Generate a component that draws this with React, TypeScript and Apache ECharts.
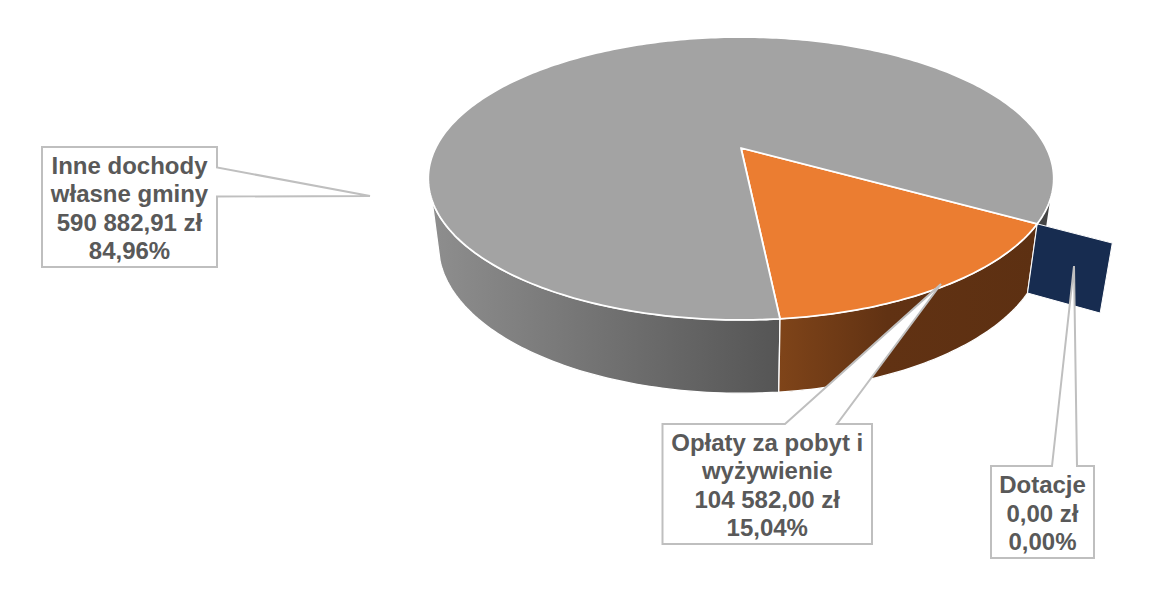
import React, { useEffect, useRef } from "react";
import * as echarts from "echarts";

const categories = ["Dotacje", "Opłaty za pobyt i wyżywienie", "Inne dochody własne gminy"];
const labelLines = [["Dotacje"], ["Opłaty za pobyt i", "wyżywienie"], ["Inne dochody", "własne gminy"]];
const values = [0, 104582.0, 590882.91];
const sliceColors = ["#172C50", "#EB7D31", "#A3A3A3"];

// layout of the drawing (not data)
const START_ANGLE = 120.1;
const EXPLODE = [1.22, 1, 1];
const TOP = { cx: 741, cy: 148, a: 305.4, b: 134.9, k: 0.2155 };
const BOTTOM = { cx: 741, cy: 214, a: 295.4, b: 140.6, k: 0.2155 };
const VISIBLE_WALL = { backRight: 110.9, frontLeftTop: 249, frontLeftBottom: 252 };
const CALLOUTS = [
  { box: [991, 466, 1094, 558], tip: [1074, 266], side: "top", base: [1052, 1077] },
  { box: [662.5, 424, 872, 544], tip: [941, 284], side: "top", base: [785, 837] },
  { box: [42, 147, 217, 267], tip: [370, 196], side: "right", base: [167.5, 196.5] },
];

type Plane = typeof TOP;
const project = (deg: number, e: number, p: Plane): number[] => {
  const t = (deg * Math.PI) / 180;
  const u = e * Math.sin(t);
  const v = -e * Math.cos(t);
  const d = 1 - p.k * v;
  return [p.cx + (p.a * u) / d, p.cy + (p.b * v) / d];
};
const arc = (from: number, to: number, p: Plane, e = 1): number[][] => {
  const n = Math.max(1, Math.ceil(Math.abs(to - from)));
  const pts: number[][] = [];
  for (let i = 0; i <= n; i++) pts.push(project(from + ((to - from) * i) / n, e, p));
  return pts;
};

const total = values.reduce((a, b) => a + b, 0);
const spans = (() => {
  let acc = START_ANGLE;
  return values.map((v) => {
    const s = acc;
    acc += (v / total) * 360;
    return [s, acc];
  });
})();

const group3 = (n: string) => n.replace(/\B(?=(\d{3})+(?!\d))/g, " ");
const money = (v: number) => {
  const [i, f] = v.toFixed(2).split(".");
  return `${group3(i)},${f} zł`;
};
const pct = (v: number) => `${((v / total) * 100).toFixed(2).replace(".", ",")}%`;

const poly = (points: number[][], fill: any, stroke = "#FFFFFF", lineWidth = 1.3) => ({
  type: "polygon",
  shape: { points },
  style: { fill, stroke, lineWidth, lineJoin: "round" },
});

const renderWall = (params: any) => {
  const i = params.dataIndex;
  const [s, e] = spans[i];
  const ex = EXPLODE[i];
  if (i === 0) {
    const pts = [
      project(s, 1, TOP),
      project(s, ex, TOP),
      project(s, ex, BOTTOM),
      project(s, 1, BOTTOM),
    ];
    return { type: "group", children: [poly(pts, sliceColors[0], "#FFFFFF", 1)] };
  }
  if (i === 1) {
    const pts = [...arc(s, e, TOP), ...arc(e, s, BOTTOM)];
    const fill = new echarts.graphic.LinearGradient(0, 0, 1, 0, [
      { offset: 0, color: "#7F4419" },
      { offset: 0.42, color: "#613213" },
      { offset: 1, color: "#5D3012" },
    ]);
    return { type: "group", children: [poly(pts, fill)] };
  }
  const front = [...arc(s, VISIBLE_WALL.frontLeftTop, TOP), ...arc(VISIBLE_WALL.frontLeftBottom, s, BOTTOM)];
  const fill = new echarts.graphic.LinearGradient(0, 0, 1, 0, [
    { offset: 0, color: "#8E8E8E" },
    { offset: 1, color: "#555555" },
  ]);
  const backRight = [...arc(VISIBLE_WALL.backRight, s, TOP), ...arc(s, VISIBLE_WALL.backRight, BOTTOM)];
  return {
    type: "group",
    children: [poly(backRight, "#454545", "#FFFFFF", 0), poly(front, fill)],
  };
};

const renderTop = (params: any) => {
  const i = params.dataIndex;
  const [s, e] = spans[i];
  if (e - s < 1e-6) return { type: "group", children: [] };
  const centre = [TOP.cx, TOP.cy];
  return poly([centre, ...arc(s, e, TOP)], sliceColors[i], "#FFFFFF", 1.8);
};

const calloutPoints = (c: (typeof CALLOUTS)[number]) => {
  const [x0, y0, x1, y1] = c.box;
  if (c.side === "top") {
    return [[x0, y0], [c.base[0], y0], c.tip, [c.base[1], y0], [x1, y0], [x1, y1], [x0, y1]];
  }
  return [[x0, y0], [x1, y0], [x1, c.base[0]], c.tip, [x1, c.base[1]], [x1, y1], [x0, y1]];
};

const renderCallout = (params: any) => {
  const i = params.dataIndex;
  const c = CALLOUTS[i];
  const [x0, y0, x1, y1] = c.box;
  const text = [...labelLines[i], money(values[i]), pct(values[i])].join("\n");
  return {
    type: "group",
    children: [
      {
        type: "polygon",
        shape: { points: calloutPoints(c) },
        style: { fill: "#FFFFFF", stroke: "#BFBFBF", lineWidth: 2, lineJoin: "miter" },
      },
      {
        type: "text",
        style: {
          text,
          x: (x0 + x1) / 2,
          y: (y0 + y1) / 2 + 1,
          align: "center",
          verticalAlign: "middle",
          fill: "#595959",
          fontFamily: "Liberation Sans",
          fontWeight: "bold",
          fontSize: 24,
          lineHeight: 28.3,
        },
      },
    ],
  };
};

export default function App() {
  const ref = useRef<HTMLDivElement>(null);
  useEffect(() => {
    const chart = echarts.init(ref.current!, undefined, { renderer: "svg" });
    const data = values.map((v, i) => ({ name: categories[i], value: v }));
    chart.setOption({
      animation: false,
      backgroundColor: "#FFFFFF",
      series: [
        { type: "custom", coordinateSystem: "none", silent: true, z: 1, clip: false, data: [data[2], data[1], data[0]], renderItem: (p: any) => renderWall({ dataIndex: 2 - p.dataIndex }) },
        { type: "custom", coordinateSystem: "none", silent: true, z: 2, clip: false, data, renderItem: renderTop },
        { type: "custom", coordinateSystem: "none", silent: true, z: 3, clip: false, data, renderItem: renderCallout },
      ],
    });
    return () => chart.dispose();
  }, []);
  return <div ref={ref} style={{ position: "fixed", left: 0, top: 0, width: 1173, height: 611 }} />;
}
